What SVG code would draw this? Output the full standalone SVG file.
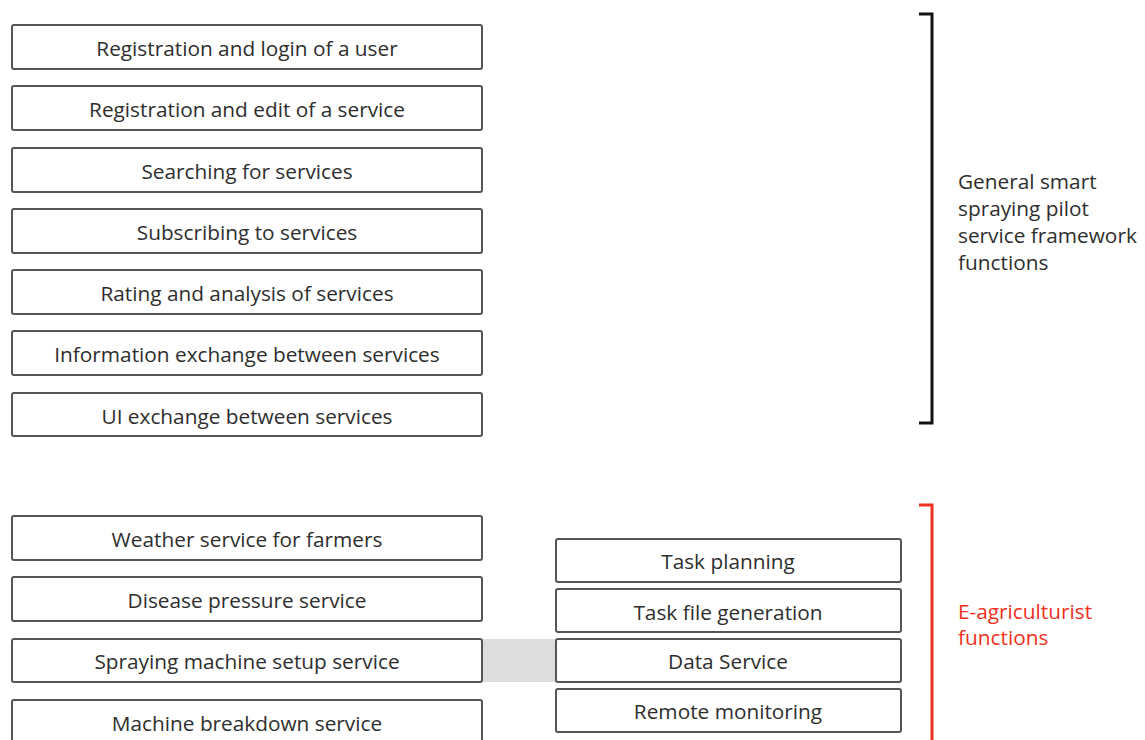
<svg xmlns="http://www.w3.org/2000/svg" width="1145" height="740" viewBox="0 0 1145 740">
<style>
.box{fill:#fff;stroke:#555;stroke-width:2}
.t{font-family:"Open Sans","Liberation Sans",sans-serif;font-size:20.8px;fill:#2e2e2e;text-anchor:middle;dominant-baseline:central}
.lbl{font-family:"Open Sans","Liberation Sans",sans-serif;font-size:20.8px;fill:#2e2e2e}
.red{fill:#f03020}
</style>
<rect x="0" y="0" width="1145" height="740" fill="#fff"/>
<g id="connectors">
<rect x="483" y="639" width="73" height="43" fill="#dddddd"/>
</g>
<g id="n1"><rect class="box" x="12" y="25" width="470" height="44" rx="2"/><text class="t" x="247" y="48">Registration and login of a user</text></g>
<g id="n2"><rect class="box" x="12" y="86" width="470" height="44" rx="2"/><text class="t" x="247" y="109">Registration and edit of a service</text></g>
<g id="n3"><rect class="box" x="12" y="148" width="470" height="44" rx="2"/><text class="t" x="247" y="171">Searching for services</text></g>
<g id="n4"><rect class="box" x="12" y="209" width="470" height="44" rx="2"/><text class="t" x="247" y="232">Subscribing to services</text></g>
<g id="n5"><rect class="box" x="12" y="270" width="470" height="44" rx="2"/><text class="t" x="247" y="293">Rating and analysis of services</text></g>
<g id="n6"><rect class="box" x="12" y="331" width="470" height="44" rx="2"/><text class="t" x="247" y="354">Information exchange between services</text></g>
<g id="n7"><rect class="box" x="12" y="393" width="470" height="43" rx="2"/><text class="t" x="247" y="416">UI exchange between services</text></g>
<g id="n8"><rect class="box" x="12" y="516" width="470" height="44" rx="2"/><text class="t" x="247" y="539">Weather service for farmers</text></g>
<g id="n9"><rect class="box" x="12" y="577" width="470" height="44" rx="2"/><text class="t" x="247" y="600">Disease pressure service</text></g>
<g id="n10"><rect class="box" x="12" y="639" width="470" height="43" rx="2"/><text class="t" x="247" y="661">Spraying machine setup service</text></g>
<g id="n11"><rect class="box" x="12" y="700" width="470" height="50" rx="2"/><text class="t" x="247" y="723">Machine breakdown service</text></g>
<g id="n12"><rect class="box" x="556" y="539" width="345" height="43" rx="2"/><text class="t" x="728" y="561">Task planning</text></g>
<g id="n13"><rect class="box" x="556" y="589" width="345" height="43" rx="2"/><text class="t" x="728" y="612">Task file generation</text></g>
<g id="n14"><rect class="box" x="556" y="639" width="345" height="43" rx="2"/><text class="t" x="728" y="661">Data Service</text></g>
<g id="n15"><rect class="box" x="556" y="689" width="345" height="43" rx="2"/><text class="t" x="728" y="711">Remote monitoring</text></g>
<g id="bracket1">
<path d="M919 14 H932 V423 H919" fill="none" stroke="#111" stroke-width="3"/>
<text class="lbl" x="958" y="189">General smart</text>
<text class="lbl" x="958" y="216">spraying pilot</text>
<text class="lbl" x="958" y="243">service framework</text>
<text class="lbl" x="958" y="270">functions</text>
</g>
<g id="bracket2">
<path d="M919 505 H932 V745" fill="none" stroke="#f03020" stroke-width="3"/>
<text class="lbl red" x="958" y="619">E-agriculturist</text>
<text class="lbl red" x="958" y="645">functions</text>
</g>
</svg>
